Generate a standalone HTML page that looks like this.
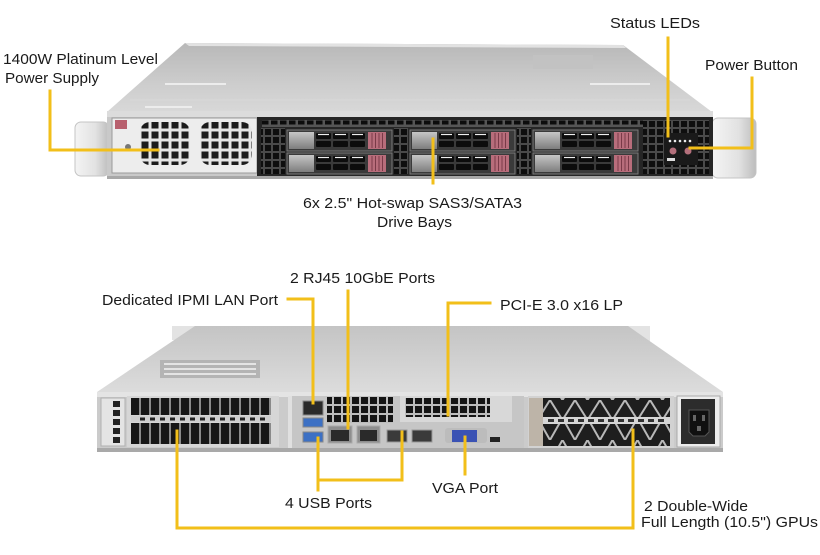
<!DOCTYPE html>
<html><head><meta charset="utf-8"><style>
html,body{margin:0;padding:0;background:#fff;}
svg{display:block;}
text{font-family:"Liberation Sans",Arial,sans-serif;font-size:15px;fill:#1a1a1a;}
</style></head><body>
<svg width="820" height="555" viewBox="0 0 820 555" xmlns="http://www.w3.org/2000/svg">
<defs>
 <linearGradient id="topA" x1="0" y1="0" x2="0" y2="1">
  <stop offset="0" stop-color="#b8b8b8"/><stop offset="0.6" stop-color="#cdcdcd"/><stop offset="1" stop-color="#d8d8d8"/>
 </linearGradient>
 <linearGradient id="topB" x1="0" y1="0" x2="0" y2="1">
  <stop offset="0" stop-color="#c4c4c4"/><stop offset="1" stop-color="#dcdcdc"/>
 </linearGradient>
 <linearGradient id="dface" x1="0" y1="0" x2="0" y2="1">
  <stop offset="0" stop-color="#c6c6c6"/><stop offset="1" stop-color="#7e7e7e"/>
 </linearGradient>
 <linearGradient id="handle" x1="0" y1="0" x2="1" y2="0">
  <stop offset="0" stop-color="#f4f4f4"/><stop offset="0.6" stop-color="#e2e2e2"/><stop offset="1" stop-color="#bdbdbd"/>
 </linearGradient>
 <pattern id="sq" width="10" height="10" patternUnits="userSpaceOnUse"><rect width="10" height="10" fill="#e6e6e6"/><rect x="1.5" y="1.5" width="7" height="7" fill="#1c1c1c"/></pattern>
 <pattern id="vent" width="8" height="8" patternUnits="userSpaceOnUse"><rect width="8" height="8" fill="#4a4a4a"/><rect x="1" y="1" width="6" height="6" fill="#0e0e0e"/></pattern>
 <pattern id="hvent" width="9" height="7" patternUnits="userSpaceOnUse"><rect width="9" height="7" fill="#555"/><rect x="1" y="1.5" width="6.5" height="4" fill="#0c0c0c"/></pattern>
 <pattern id="grid" width="9" height="9" patternUnits="userSpaceOnUse"><rect width="9" height="9" fill="#bdbdbd"/><rect x="1" y="1" width="7" height="7" fill="#151515"/></pattern>
 <pattern id="bars" width="10" height="40" patternUnits="userSpaceOnUse"><rect width="10" height="40" fill="#8a8a8a"/><rect x="1" y="0" width="8" height="40" fill="#161616"/></pattern>
 <pattern id="tri" width="25" height="20" patternUnits="userSpaceOnUse"><rect width="25" height="20" fill="#1e1e1e"/><polyline points="0,0 12.5,20 25,0" fill="none" stroke="#b8b8b8" stroke-width="2"/></pattern>
 <pattern id="tri2" width="25" height="22" patternUnits="userSpaceOnUse"><rect width="25" height="22" fill="#1e1e1e"/><polyline points="0,22 12.5,0 25,22" fill="none" stroke="#b8b8b8" stroke-width="2"/></pattern>
 <clipPath id="f1"><rect x="140" y="122" width="50" height="43" rx="10"/></clipPath>
 <clipPath id="f2"><rect x="200" y="122" width="52" height="43" rx="10"/></clipPath>
 <g id="drive">
  <rect x="0" y="0" width="105" height="21" fill="#3a3a3a" stroke="#7a7a7a" stroke-width="1"/>
  <rect x="2" y="2" width="25" height="17" fill="url(#dface)"/>
  <rect x="29" y="3" width="15" height="6" rx="1" fill="#0c0c0c"/>
  <rect x="46" y="3" width="15" height="6" rx="1" fill="#0c0c0c"/>
  <rect x="63" y="3" width="15" height="6" rx="1" fill="#0c0c0c"/>
  <rect x="29" y="11" width="15" height="6" rx="1" fill="#0c0c0c"/>
  <rect x="46" y="11" width="15" height="6" rx="1" fill="#0c0c0c"/>
  <rect x="63" y="11" width="15" height="6" rx="1" fill="#0c0c0c"/>
  <line x1="31" y1="4.5" x2="42" y2="4.5" stroke="#eee" stroke-width="1.2"/>
  <line x1="48" y1="4.5" x2="59" y2="4.5" stroke="#eee" stroke-width="1.2"/>
  <line x1="65" y1="4.5" x2="76" y2="4.5" stroke="#eee" stroke-width="1.2"/>
  <rect x="81" y="2" width="18" height="17" fill="#b86d7b"/>
  <path d="M85 3v15M88.5 3v15M92 3v15M95.5 3v15" stroke="#7a3a48" stroke-width="1"/>
 </g>
</defs>

<!-- ============ TOP SERVER ============ -->
<polygon points="185,43 623,45 712,112 107,112" fill="url(#topA)"/>
<polygon points="185,43 623,45 626,48 189,46" fill="#e2e2e2"/>
<line x1="165" y1="84" x2="226" y2="84" stroke="#ececec" stroke-width="2"/>
<line x1="145" y1="107" x2="192" y2="107" stroke="#ececec" stroke-width="2"/>
<line x1="590" y1="84" x2="650" y2="84" stroke="#ececec" stroke-width="2"/>
<line x1="130" y1="100" x2="690" y2="100" stroke="#d9d9d9" stroke-width="1"/>
<rect x="533" y="55" width="60" height="14" fill="#c2c2c2"/>
<!-- handles -->
<rect x="75" y="122" width="34" height="54" rx="6" fill="url(#handle)" stroke="#c4c4c4"/>
<rect x="712" y="118" width="44" height="60" rx="6" fill="url(#handle)" stroke="#c4c4c4"/>
<!-- front -->
<rect x="107" y="111" width="606" height="7" fill="#dcdcdc"/>
<rect x="107" y="117" width="152" height="60" fill="#c9c9c9"/>
<rect x="112" y="118" width="145" height="55" fill="#ededed" stroke="#9a9a9a"/>
<rect x="115" y="120" width="12" height="9" fill="#b8606e"/>
<circle cx="128" cy="147" r="3" fill="#777"/>
<rect x="140" y="122" width="50" height="43" fill="url(#sq)" clip-path="url(#f1)"/>
<rect x="200" y="122" width="52" height="43" fill="url(#sq)" clip-path="url(#f2)"/>
<rect x="257" y="117" width="456" height="60" fill="#262626"/>
<rect x="262" y="120" width="440" height="7" fill="url(#hvent)"/>
<rect x="261" y="128" width="24" height="46" fill="url(#vent)"/>
<rect x="394" y="128" width="14" height="46" fill="url(#vent)"/>
<rect x="517" y="128" width="14" height="46" fill="url(#vent)"/>
<rect x="643" y="120" width="66" height="54" fill="url(#vent)"/>
<use href="#drive" x="287" y="130"/>
<use href="#drive" x="287" y="153"/>
<use href="#drive" x="410" y="130"/>
<use href="#drive" x="410" y="153"/>
<use href="#drive" x="533" y="130"/>
<use href="#drive" x="533" y="153"/>
<!-- control panel -->
<rect x="664" y="133" width="34" height="32" fill="#1a1a1a"/>
<circle cx="670" cy="141" r="1.3" fill="#eee"/><circle cx="675" cy="141" r="1.3" fill="#eee"/><circle cx="680" cy="141" r="1.3" fill="#eee"/><circle cx="685" cy="141" r="1.3" fill="#eee"/><circle cx="690" cy="141" r="1.3" fill="#eee"/>
<circle cx="673" cy="151" r="3.5" fill="#b4707c"/><circle cx="688" cy="151" r="3.5" fill="#b4707c"/>
<rect x="667" y="158" width="8" height="3" fill="#ddd"/>
<rect x="107" y="176" width="606" height="3" fill="#a8a8a8"/>

<!-- ============ BOTTOM SERVER ============ -->
<rect x="172" y="326" width="25" height="14" fill="#e3e3e3"/>
<rect x="626" y="326" width="24" height="18" fill="#e3e3e3"/>
<polygon points="195,326 628,326 723,392 97,392" fill="url(#topB)"/>
<rect x="160" y="360" width="100" height="18" fill="#b4b4b4"/>
<path d="M164 364h92M164 369h92M164 374h92" stroke="#e4e4e4" stroke-width="2"/>
<!-- rear face -->
<rect x="97" y="392" width="626" height="60" fill="#cbcbcb"/>
<rect x="97" y="392" width="626" height="5" fill="#e4e4e4"/>
<rect x="97" y="448" width="626" height="4" fill="#a9a9a9"/>
<!-- left bracket -->
<rect x="101" y="398" width="24" height="48" fill="#e4e4e4" stroke="#b0b0b0"/>
<rect x="113" y="401" width="7" height="6" fill="#222"/><rect x="113" y="410" width="7" height="6" fill="#222"/><rect x="113" y="419" width="7" height="6" fill="#222"/><rect x="113" y="428" width="7" height="6" fill="#222"/><rect x="113" y="437" width="7" height="6" fill="#222"/>
<!-- left GPU -->
<rect x="127" y="396" width="152" height="51" fill="#d6d6d6"/>
<rect x="131" y="398" width="140" height="17" fill="url(#bars)"/>
<rect x="131" y="416" width="140" height="6" fill="#cfcfcf"/>
<path d="M140 419h130" stroke="#222" stroke-width="3" stroke-dasharray="5,5"/>
<rect x="131" y="423" width="140" height="21" fill="url(#bars)"/>
<rect x="288" y="396" width="4" height="52" fill="#e0e0e0"/>
<!-- IO -->
<rect x="292" y="396" width="232" height="52" fill="#c6c6c6"/>
<rect x="303" y="401" width="20" height="14" fill="#2a2a2a" stroke="#888"/>
<rect x="303" y="418" width="20" height="9" fill="#3c70c4" stroke="#888"/>
<rect x="303" y="432" width="20" height="10" fill="#3c70c4" stroke="#888"/>
<rect x="327" y="397" width="66" height="26" fill="url(#grid)"/>
<rect x="328" y="426" width="24" height="17" fill="#8e8e8e" stroke="#aaa"/>
<rect x="331" y="430" width="18" height="11" fill="#2a2a2a"/>
<rect x="357" y="426" width="23" height="17" fill="#8e8e8e" stroke="#aaa"/>
<rect x="360" y="430" width="17" height="11" fill="#2a2a2a"/>
<rect x="387" y="430" width="20" height="12" fill="#3a3a3a" stroke="#999"/>
<rect x="412" y="430" width="20" height="12" fill="#3a3a3a" stroke="#999"/>
<rect x="400" y="396" width="112" height="26" fill="#d8d8d8"/>
<rect x="405" y="398" width="85" height="19" fill="url(#grid)"/>
<rect x="445" y="428" width="42" height="15" rx="3" fill="#bcbcbc"/>
<rect x="452" y="430" width="25" height="12" fill="#3a52b4"/>
<rect x="490" y="437" width="10" height="5" fill="#222"/>
<!-- right GPU -->
<rect x="528" y="396" width="146" height="52" fill="#d2d2d2"/>
<rect x="529" y="398" width="14" height="48" fill="#bdb4a8"/>
<rect x="543" y="398" width="127" height="19" fill="url(#tri)"/>
<rect x="543" y="417" width="127" height="7" fill="#d6d6d6"/>
<path d="M548 420.5h118" stroke="#333" stroke-width="3" stroke-dasharray="6,4"/>
<rect x="543" y="424" width="127" height="22" fill="url(#tri2)"/>
<!-- PSU -->
<rect x="677" y="396" width="43" height="51" fill="#ececec" stroke="#aaa"/>
<rect x="681" y="399" width="34" height="45" fill="#2c2c2c"/>
<path d="M689 410h20v22l-4 4h-12l-4-4z" fill="#101010" stroke="#555"/>
<rect x="693" y="415" width="3" height="6" fill="#666"/><rect x="702" y="415" width="3" height="6" fill="#666"/><rect x="697" y="426" width="4" height="5" fill="#666"/>

<!-- ============ CONNECTORS ============ -->
<g stroke="#f2bf1a" stroke-width="3" fill="none" stroke-linecap="square">
 <polyline points="50,91 50,150 158,150"/>
 <line x1="433" y1="139" x2="433" y2="183"/>
 <line x1="668" y1="38" x2="668" y2="136"/>
 <polyline points="752,78 752,148 690,148"/>
 <polyline points="288,299 313,299 313,403"/>
 <line x1="348" y1="291" x2="348" y2="428"/>
 <polyline points="490,303 448,303 448,415"/>
 <polyline points="318,438 318,490"/>
 <polyline points="318,480 402,480 402,432"/>
 <line x1="465" y1="437" x2="465" y2="474"/>
 <polyline points="177,431 177,528 633,528 633,430"/>
</g>

<!-- ============ LABELS ============ -->
<text x="3" y="64" textLength="155" lengthAdjust="spacingAndGlyphs">1400W Platinum  Level</text>
<text x="5" y="83" textLength="94" lengthAdjust="spacingAndGlyphs">Power Supply</text>
<text x="610" y="28" textLength="90" lengthAdjust="spacingAndGlyphs">Status LEDs</text>
<text x="705" y="70" textLength="93" lengthAdjust="spacingAndGlyphs">Power Button</text>
<text x="303" y="208" textLength="219" lengthAdjust="spacingAndGlyphs">6x 2.5" Hot-swap SAS3/SATA3</text>
<text x="377" y="227" textLength="75" lengthAdjust="spacingAndGlyphs">Drive Bays</text>
<text x="290" y="283" textLength="145" lengthAdjust="spacingAndGlyphs">2 RJ45 10GbE Ports</text>
<text x="102" y="305" textLength="176" lengthAdjust="spacingAndGlyphs">Dedicated IPMI  LAN Port</text>
<text x="500" y="310" textLength="123" lengthAdjust="spacingAndGlyphs">PCI-E 3.0 x16 LP</text>
<text x="285" y="508" textLength="87" lengthAdjust="spacingAndGlyphs">4 USB Ports</text>
<text x="432" y="493" textLength="66" lengthAdjust="spacingAndGlyphs">VGA Port</text>
<text x="644" y="511" textLength="104" lengthAdjust="spacingAndGlyphs">2 Double-Wide</text>
<text x="641" y="527" textLength="177" lengthAdjust="spacingAndGlyphs">Full Length (10.5") GPUs</text>
</svg>
</body></html>
